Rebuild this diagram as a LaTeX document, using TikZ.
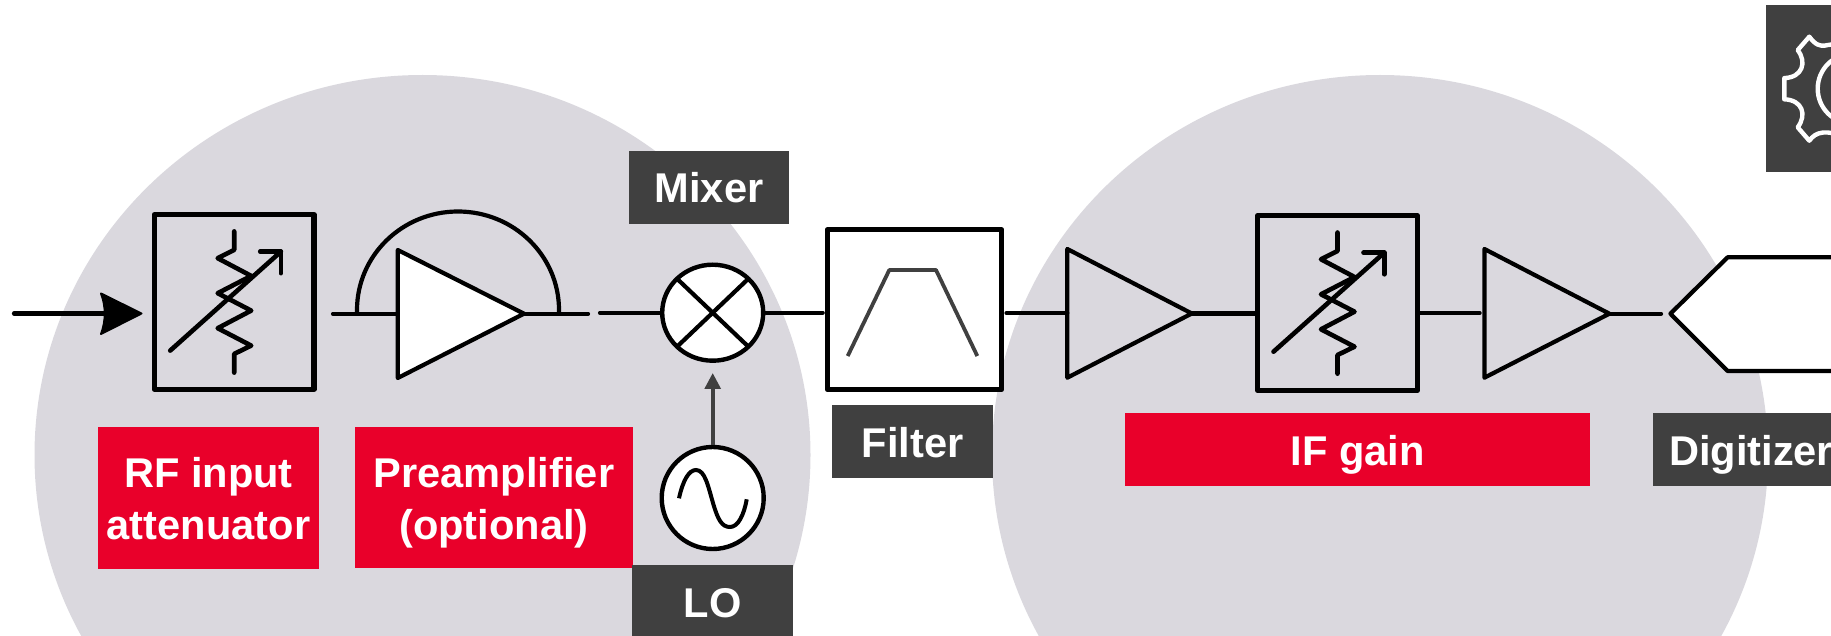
\documentclass[tikz,border=0pt]{standalone}
\usepackage{fontspec}
\setmainfont{Liberation Sans}
\usetikzlibrary{arrows.meta,shapes.geometric}
\definecolor{bgc}{HTML}{DAD8DE}
\definecolor{redc}{HTML}{E9002A}
\definecolor{darkc}{HTML}{404040}
\tikzset{
  x=1pt,y=-1pt,
  wire/.style={draw=black,line width=4.2pt,line cap=round,line join=round},
  zig/.style={wire,line width=4.6pt},
  cross/.style={draw=black,line width=4.2pt,shorten <=1pt,shorten >=1pt},
  heavy/.style={draw=black,line width=5.2pt,line join=round,inner sep=0pt,minimum width=159.7pt,minimum height=174.5pt},
  disc/.style={ellipse,draw=black,fill=white,line width=4.4pt,inner sep=0pt},
  lab/.style={text=white,font=\fontsize{41.6}{52}\selectfont\bfseries,align=center,inner sep=0pt,anchor=center},
  redlabel/.style={lab,fill=redc},
  darklabel/.style={lab,fill=darkc,text height=31pt,text depth=0pt},
  pics/atten/.style={code={
    \draw[zig] (0,-70.5)--(0,-52)--(-16.5,-43.7)--(17,-26)--(-16.5,-8.7)--(17,8.7)--(-16.5,26.3)--(17,43.7)--(0,52)--(0,70.7);
    \draw[zig] (-64,48.7)--(46.7,-50.3);
    \draw[zig] (26,-50.3)--(46.7,-50.3)--(46.7,-28.7);
  }}
}
\begin{document}
\begin{tikzpicture}
\useasboundingbox (0,0) rectangle (1831,636);
\clip (0,0) rectangle (1831,636);
% background lobes
\fill[bgc] (422.5,455) ellipse [x radius=388,y radius=380];
\fill[bgc] (1380,455) ellipse [x radius=388,y radius=380];
% free ends
\coordinate (rfin) at (14,313.5);
\coordinate (rftip) at (141.5,313.5);
\coordinate (prea) at (333,313.7);
\coordinate (preb) at (588,313.7);
\coordinate (pretip) at (524,313.7);
\coordinate (mixa) at (600,312.7);
\coordinate (mixb) at (822.7,312.7);
\coordinate (ifa) at (1006.5,313);
\coordinate (amp1l) at (1067.3,313);
\coordinate (amp1t) at (1191.8,313.5);
\coordinate (amp2l) at (1479.6,313);
\coordinate (amp2t) at (1609.4,313.7);
\coordinate (digl) at (1661,313.7);
% RF input arrow
\draw[wire] (rfin)--(105,313.5);
\fill[black,draw=black,line width=2pt,line join=round] (rftip)--(101,293.5) .. controls (106,306) and (106,321) .. (101,334)--cycle;
% attenuator 1
\node[heavy] (att1) at (234.2,301.9) {};
\pic at (att1.center) {atten};
% preamp
\draw[wire] (prea)--(preb);
\draw[wire] (357,313.7) -- (357,310) arc[start angle=180,end angle=360,x radius=101,y radius=98.5] -- (559,313.7);
\path[wire,fill=white] (397.8,250)--(pretip)--(397.8,378)--cycle;
% mixer
\draw[wire] (mixa)--(660,312.7);
\draw[wire] (766,312.7)--(mixb);
\node[disc,minimum width=101pt,minimum height=96pt] (mix) at (712.7,312.7) {};
\draw[cross] (mix.north west)--(mix.south east);
\draw[cross] (mix.north east)--(mix.south west);
% LO
\node[disc,minimum width=102pt,minimum height=102pt] (lo) at (712.7,498) {};
\draw[draw=black,line width=4pt] (679,498.3) .. controls (683,480) and (689,470) .. (696,470) .. controls (705,470) and (708,486) .. (713.3,504) .. controls (718,520) and (722,527) .. (730,527) .. controls (738,527) and (744,515) .. (746.7,499.3);
\draw[darkc,line width=4pt,shorten >=10pt,-{Triangle[length=16pt,width=15.5pt]}] (lo.north)--(mix.south);
% filter
\node[heavy,fill=white,minimum width=174.5pt,minimum height=159.8pt] (filt) at (914.5,309.8) {};
\draw[darkc,line width=3.8pt,line join=round] (847.7,356)--(889.3,270)--(936,270)--(977.3,356);
% IF section
\node[heavy] (att2) at (1337.5,303) {};
\pic at (att2.center) {atten};
\draw[wire] (ifa)--(amp1l);
\draw[wire] (amp1t)--(att2.west |- amp1t);
\draw[wire] (att2.east |- amp2l)--(amp2l);
\draw[wire] (amp2t)--(digl);
\draw[wire] (1067.3,249)--(amp1t)--(1067.3,377.7)--cycle;
\draw[wire] (1484.4,249)--(amp2t)--(1484.4,377.7)--cycle;
% digitizer
\path[wire,fill=white] (1840,257.3)--(1727.6,257.3)--(1670.4,313.7)--(1727.6,371)--(1840,371);
% settings box
\node[fill=darkc,inner sep=0pt,minimum width=85pt,minimum height=167pt] (gearbox) at (1808.5,88.5) {};
\draw[white,line width=4.4pt,line join=round]
  (1850,39) .. controls (1842,44) and (1832,44) .. (1824.3,45.7) .. controls (1820,45.7) and (1816,45.7) .. (1809.3,36.7)
  -- (1797.7,50.1) .. controls (1807,62) and (1802.7,77.4) .. (1784.3,78.1)
  -- (1784.3,99.3) .. controls (1802.7,100) and (1807,115) .. (1797.7,127.3)
  -- (1809.3,140.7) .. controls (1816,131.7) and (1824.3,129) .. (1850,138);
\draw[white,line width=4.4pt] (1852.7,88.7) circle [radius=35];
% labels
\node[redlabel,minimum width=221pt,minimum height=141.7pt] (rflab) at (208.5,497.8) {\rule{0pt}{32pt}RF input\\attenuator};
\node[redlabel,minimum width=278pt,minimum height=140.7pt] (prelab) at (494,497.3) {\rule{0pt}{32pt}Preamplifier\\\raisebox{0pt}[\height][0pt]{(optional)}};
\node[darklabel,minimum width=160pt,minimum height=72.7pt,text height=30pt] (mixlab) at (709,187.3) {Mixer};
\node[darklabel,minimum width=161pt,minimum height=72.7pt,text height=32pt] (filtlab) at (912.5,441.3) {Filter};
\node[darklabel,minimum width=161pt,minimum height=72.7pt,text height=32pt] (lolab) at (712.5,601.3) {LO};
\node[redlabel,minimum width=465pt,minimum height=73pt,text height=32pt,text depth=0pt] (iflab) at (1357.5,449.2) {IF gain};
\node[darklabel,minimum width=190pt,minimum height=72.4pt,text height=32pt] (diglab) at (1748,449.5) {\makebox[170pt][l]{\hspace*{6pt}Digitizer}};
\end{tikzpicture}
\end{document}
